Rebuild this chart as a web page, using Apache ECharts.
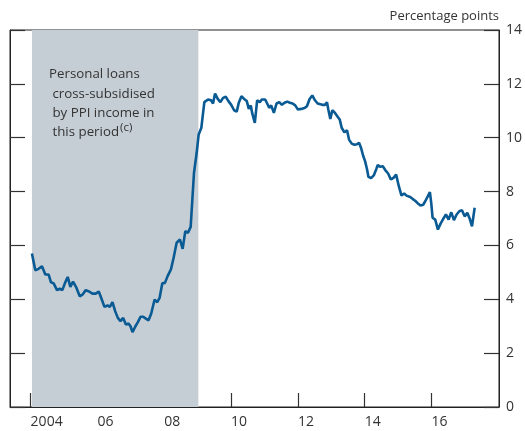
<!DOCTYPE html>
<html>
<head>
<meta charset="utf-8">
<script src="https://cdn.jsdelivr.net/npm/echarts@6/dist/echarts.min.js"></script>
<style>
  html, body { margin: 0; padding: 0; background: #fff; }
  #chart { width: 525px; height: 431px; }
</style>
</head>
<body>
<div id="chart"></div>
<script>
// decimal years, with the spread in percentage points
var dates = [
  2004.04, 2004.14, 2004.24, 2004.34, 2004.44, 2004.54, 2004.61, 2004.69, 2004.79, 2004.87, 2004.95,
  2005.03, 2005.11, 2005.19, 2005.27, 2005.37, 2005.47, 2005.55, 2005.65, 2005.75, 2005.85, 2005.95,
  2006.04, 2006.13, 2006.21, 2006.30, 2006.37, 2006.45, 2006.53, 2006.61, 2006.69, 2006.77, 2006.85, 2006.93, 2006.99,
  2007.05, 2007.13, 2007.21, 2007.29, 2007.37, 2007.45, 2007.53, 2007.61, 2007.71, 2007.79, 2007.86, 2007.94,
  2008.02, 2008.10, 2008.20, 2008.28, 2008.37, 2008.47, 2008.55, 2008.63, 2008.71, 2008.79, 2008.89, 2008.97,
  2009.03, 2009.11, 2009.15, 2009.20, 2009.31, 2009.40, 2009.46, 2009.52, 2009.60, 2009.68, 2009.76, 2009.84, 2009.92,
  2010.00, 2010.09, 2010.17, 2010.23, 2010.31, 2010.39, 2010.47, 2010.53, 2010.59, 2010.63, 2010.71, 2010.78, 2010.86, 2010.92,
  2011.02, 2011.08, 2011.14, 2011.20, 2011.28, 2011.36, 2011.44, 2011.52, 2011.60, 2011.68, 2011.76, 2011.84, 2011.92,
  2012.00, 2012.10, 2012.20, 2012.27, 2012.35, 2012.43, 2012.51, 2012.59, 2012.63, 2012.73, 2012.81, 2012.87, 2012.91, 2012.97,
  2013.03, 2013.11, 2013.19, 2013.25, 2013.31, 2013.39, 2013.47, 2013.53, 2013.61, 2013.69, 2013.77, 2013.83, 2013.89, 2013.95,
  2014.01, 2014.07, 2014.11, 2014.19, 2014.27, 2014.35, 2014.39, 2014.46, 2014.54, 2014.62, 2014.70, 2014.78, 2014.86, 2014.94,
  2015.02, 2015.10, 2015.18, 2015.25, 2015.36, 2015.43, 2015.51, 2015.59, 2015.67, 2015.75, 2015.81, 2015.89, 2015.95, 2015.99,
  2016.03, 2016.11, 2016.19, 2016.27, 2016.35, 2016.43, 2016.51, 2016.59, 2016.67, 2016.75, 2016.83, 2016.91, 2016.99,
  2017.07, 2017.15, 2017.21, 2017.29
];
var spread = [
  5.70, 5.08, 5.13, 5.23, 4.92, 4.92, 4.63, 4.59, 4.34, 4.39, 4.34,
  4.61, 4.83, 4.46, 4.66, 4.43, 4.11, 4.17, 4.34, 4.29, 4.21, 4.21,
  4.29, 3.99, 3.72, 3.77, 3.72, 3.89, 3.56, 3.31, 3.19, 3.31, 3.06, 3.10, 3.00,
  2.78, 2.98, 3.15, 3.35, 3.35, 3.28, 3.22, 3.47, 3.99, 3.89, 4.05, 4.59,
  4.61, 4.86, 5.11, 5.54, 6.10, 6.22, 5.87, 6.53, 6.47, 6.69, 8.70, 9.44,
  10.12, 10.37, 10.80, 11.32, 11.42, 11.39, 11.27, 11.64, 11.44, 11.32, 11.48, 11.52, 11.36,
  11.23, 11.02, 10.97, 11.30, 11.54, 11.44, 11.36, 11.07, 11.20, 10.92, 10.55, 11.39, 11.32, 11.42,
  11.42, 11.27, 11.11, 11.20, 10.92, 11.27, 11.32, 11.22, 11.30, 11.34, 11.30, 11.27, 11.20,
  11.05, 11.07, 11.10, 11.17, 11.44, 11.57, 11.39, 11.27, 11.22, 11.22, 11.22, 11.32, 11.05, 10.70,
  11.02, 10.92, 10.78, 10.68, 10.37, 10.20, 10.28, 9.93, 9.78, 9.74, 9.76, 9.81, 9.62, 9.34,
  9.13, 8.82, 8.55, 8.50, 8.60, 8.85, 8.99, 8.92, 8.94, 8.79, 8.67, 8.45, 8.51, 8.63,
  8.20, 7.85, 7.93, 7.85, 7.80, 7.73, 7.66, 7.56, 7.48, 7.51, 7.64, 7.83, 7.98, 7.58,
  7.03, 6.96, 6.59, 6.81, 6.99, 7.15, 6.96, 7.23, 6.94, 7.15, 7.27, 7.31, 7.08,
  7.21, 6.96, 6.71, 7.40
];
var xTicks = [2004, 2006, 2008, 2010, 2012, 2014, 2016];
var shadedPeriod = [2004.04, 2009.02];

var font = '"Open Sans", sans-serif';
var textColor = '#333';

var chart = echarts.init(document.getElementById('chart'));

var lineData = [];
for (var i = 0; i < dates.length; i++) {
  lineData.push([dates[i], spread[i]]);
}

var option = {
  animation: false,
  textStyle: { fontFamily: font },
  grid: {
    left: 10, right: 24, top: 30, bottom: 24,
    show: true, borderColor: '#222', borderWidth: 1, backgroundColor: 'transparent'
  },
  xAxis: {
    type: 'value',
    min: 2003.383,
    max: 2018.018,
    axisLine: { show: true, lineStyle: { color: '#222', width: 1 } },
    axisTick: {
      show: true, inside: true, length: 14,
      customValues: xTicks,
      lineStyle: { color: '#333', width: 1.2 }
    },
    axisLabel: {
      customValues: xTicks,
      margin: 8,
      align: 'left',
      padding: [0, 0, 0, 0],
      fontSize: 14, color: textColor, fontFamily: font,
      formatter: function (v) {
        return v === 2004 ? '2004' : String(v).slice(2);
      }
    },
    splitLine: { show: false }
  },
  yAxis: [
    {
      type: 'value', position: 'right',
      min: 0, max: 14, interval: 2,
      axisLine: { show: true, lineStyle: { color: '#222', width: 1 } },
      axisTick: { show: true, inside: true, length: 15, lineStyle: { color: '#333', width: 1.2 } },
      axisLabel: { margin: 7, fontSize: 14, color: textColor, fontFamily: font, padding: [3, 0, 0, 0] },
      splitLine: { show: false }
    },
    {
      type: 'value', position: 'left',
      min: 0, max: 14, interval: 2,
      axisLine: { show: true, lineStyle: { color: '#222', width: 1 } },
      axisTick: { show: true, inside: true, length: 15, lineStyle: { color: '#333', width: 1.2 } },
      axisLabel: { show: false },
      splitLine: { show: false }
    }
  ],
  graphic: [
    {
      type: 'text', right: 26, top: 10, z: 100,
      style: { text: 'Percentage points', font: '13px ' + font, fill: textColor }
    },
    {
      type: 'text', left: 49, top: 65, z: 100,
      style: {
        text: 'Personal loans\n {a|cross-subsidised}\n {a|by PPI income in}\n {a|this period}{sup|(c)}',
        font: '13.3px ' + font, fill: textColor, lineHeight: 19.3,
        rich: {
          a: { fontSize: 13.3, fontFamily: font, fill: textColor, lineHeight: 19.3 },
          sup: { fontSize: 11.5, fontFamily: font, fill: textColor, lineHeight: 19.3, padding: [0, 0, 9, 1] }
        }
      }
    }
  ],
  series: [
    {
      type: 'line',
      yAxisIndex: 0,
      data: lineData,
      showSymbol: false,
      lineStyle: { color: '#0a5a94', width: 2.6 },
      itemStyle: { color: '#0a5a94' },
      z: 3,
      markArea: {
        silent: true,
        itemStyle: { color: '#c6ced5' },
        data: [[{ xAxis: shadedPeriod[0] }, { xAxis: shadedPeriod[1] }]]
      }
    }
  ]
};

chart.setOption(option);
</script>
</body>
</html>
